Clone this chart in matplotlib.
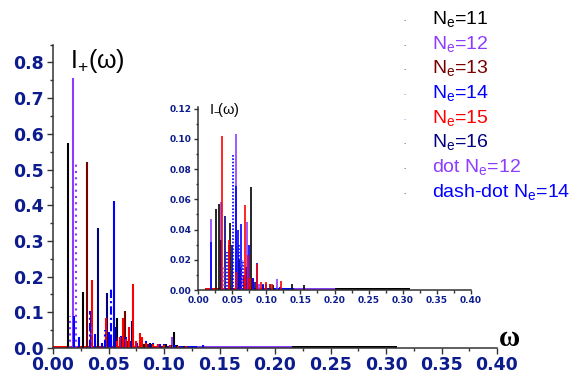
import matplotlib
matplotlib.use("Agg")
import matplotlib.pyplot as plt
from matplotlib.ticker import MultipleLocator

plt.rcParams['mathtext.fontset'] = 'custom'
plt.rcParams['mathtext.rm'] = 'Liberation Sans'
plt.rcParams['mathtext.default'] = 'rm'

# ---- I+(omega), main panel: (omega, intensity) pairs per series ----
p11_w = [0.0132, 0.0267, 0.0480, 0.0555, 0.0573, 0.0620, 0.0750, 0.0820, 0.0870, 0.0950,
         0.1020, 0.1090, 0.1120, 0.1180]
p11_h = [0.575, 0.157, 0.030, 0.060, 0.083, 0.025, 0.020, 0.012, 0.015, 0.010,
         0.012, 0.046, 0.008, 0.007]
p12_w = [0.0183, 0.0660, 0.0720, 0.0900, 0.0950, 0.1000, 0.1070]
p12_h = [0.757, 0.015, 0.020, 0.012, 0.010, 0.010, 0.030]
p13_w = [0.0306, 0.0580, 0.0648, 0.0680, 0.0860, 0.0980]
p13_h = [0.520, 0.030, 0.103, 0.020, 0.010, 0.006]
p14_w = [0.0185, 0.0230, 0.0345, 0.0378, 0.0440, 0.0500, 0.0520, 0.0549, 0.0610, 0.0640,
         0.0660, 0.0700, 0.0760, 0.0840, 0.0870, 0.0900, 0.0960, 0.1000, 0.1100, 0.1200,
         0.1350]
p14_h = [0.090, 0.030, 0.100, 0.040, 0.015, 0.045, 0.035, 0.412, 0.035, 0.025,
         0.030, 0.020, 0.015, 0.020, 0.012, 0.015, 0.012, 0.010, 0.008, 0.006,
         0.008]
p15_w = [0.0348, 0.0477, 0.0520, 0.0580, 0.0600, 0.0627, 0.0660, 0.0684, 0.0723, 0.0750,
         0.0780, 0.0800, 0.0840, 0.0900, 0.0950, 0.1000, 0.1050, 0.1130, 0.1200]
p15_h = [0.190, 0.085, 0.020, 0.020, 0.030, 0.085, 0.025, 0.060, 0.180, 0.020,
         0.043, 0.030, 0.015, 0.010, 0.012, 0.009, 0.008, 0.006, 0.006]
p16_w = [0.0402, 0.0490, 0.0565, 0.0714, 0.0880, 0.1060]
p16_h = [0.335, 0.155, 0.060, 0.075, 0.010, 0.008]
p12dot_w = [0.0156, 0.0210, 0.0340]
p12dot_h = [0.090, 0.520, 0.060]
p14dd_w = [0.0335, 0.0470, 0.0522]
p14dd_h = [0.105, 0.050, 0.165]
# dense low-level tails along the axis: (start, end, height)
p_tails = {'15': (0.000, 0.128, 0.006), '14': (0.100, 0.150, 0.006),
           '12': (0.130, 0.220, 0.006), '11': (0.215, 0.310, 0.005)}

# ---- I-(omega), inset ----
m11_w = [0.0260, 0.0304, 0.0464, 0.0600, 0.0777, 0.0950, 0.1100, 0.1370, 0.1550]
m11_h = [0.0536, 0.0570, 0.0440, 0.0200, 0.0680, 0.0030, 0.0030, 0.0040, 0.0030]
m12_w = [0.0186, 0.0330, 0.0557, 0.0713, 0.0900, 0.1157]
m12_h = [0.0470, 0.0580, 0.1033, 0.0448, 0.0040, 0.0075]
m13_w = [0.0450, 0.0630, 0.0800, 0.1050]
m13_h = [0.0300, 0.0150, 0.0080, 0.0040]
m14_w = [0.0190, 0.0550, 0.0590, 0.0625, 0.0700, 0.0740, 0.0800, 0.0859, 0.0950, 0.1000,
         0.1200]
m14_h = [0.0320, 0.0686, 0.0400, 0.0435, 0.0150, 0.0300, 0.0080, 0.0180, 0.0040, 0.0040,
         0.0020]
m15_w = [0.0347, 0.0455, 0.0550, 0.0670, 0.0684, 0.0727, 0.0760, 0.0870, 0.0920, 0.1000,
         0.1080, 0.1215]
m15_h = [0.1020, 0.0330, 0.0120, 0.0100, 0.0560, 0.0230, 0.0080, 0.0170, 0.0050, 0.0050,
         0.0040, 0.0060]
m16_w = [0.0335, 0.0400, 0.0500, 0.0680, 0.0830]
m16_h = [0.0330, 0.0490, 0.0300, 0.0100, 0.0050]
m12dot_w = [0.0380, 0.0650]
m12dot_h = [0.0150, 0.0200]
m14dd_w = [0.0420, 0.0518, 0.0600, 0.0660]
m14dd_h = [0.0250, 0.0900, 0.0300, 0.0200]
m_tails = {'15': (0.010, 0.125, 0.0010), '14': (0.100, 0.150, 0.0010),
           '12': (0.140, 0.220, 0.0010), '11': (0.200, 0.310, 0.0010)}

legend_labels = ['N$_e$=11', 'N$_e$=12', 'N$_e$=13', 'N$_e$=14', 'N$_e$=15', 'N$_e$=16',
                 'dot N$_e$=12', 'dash-dot N$_e$=14']

colors = {'11': '#000000', '12': '#8c3cff', '13': '#7a0000',
          '14': '#0000ff', '15': '#ff0000', '16': '#000080'}
tick_color = '#0c1c8c'

fig = plt.figure(figsize=(5.85, 3.75), dpi=100)
ax = fig.add_axes([53 / 585, 1 - 348 / 375, 444 / 585, 0.85 * 357 / 375])
ins = fig.add_axes([198 / 585, 1 - 290 / 375, 273 / 585, 183 / 375])


def draw_panel(a, lw, sticks, tails):
    for key, (t0, t1, th) in tails.items():
        a.fill_between([t0, t1], 0, th, color=colors[key], lw=0)
    for w, h, key, ls in sticks:
        a.vlines(w, 0, h, colors=colors[key], linestyles=ls, lw=lw)


draw_panel(ax, 1.5, [
    (p11_w, p11_h, '11', 'solid'), (p12_w, p12_h, '12', 'solid'), (p13_w, p13_h, '13', 'solid'),
    (p14_w, p14_h, '14', 'solid'), (p16_w, p16_h, '16', 'solid'), (p15_w, p15_h, '15', 'solid'),
    (p12dot_w, p12dot_h, '12', (0, (1, 2))), (p14dd_w, p14dd_h, '14', (0, (4, 1.5, 1, 1.5))),
], p_tails)
draw_panel(ins, 1.2, [
    (m11_w, m11_h, '11', 'solid'), (m12_w, m12_h, '12', 'solid'), (m13_w, m13_h, '13', 'solid'),
    (m14_w, m14_h, '14', 'solid'), (m16_w, m16_h, '16', 'solid'), (m15_w, m15_h, '15', 'solid'),
    (m12dot_w, m12dot_h, '12', (0, (1, 1.5))), (m14dd_w, m14dd_h, '14', (0, (1, 1))),
], m_tails)

for a, ymax, xmaj, ymaj, ymin, fs, fmt in [(ax, 0.85, 0.05, 0.1, 0.05, 12.5, '{:.1f}'),
                                             (ins, 0.121, 0.05, 0.02, 0.01, 6.5, '{:.2f}')]:
    a.patch.set_alpha(0)
    for s in ['top', 'right']:
        a.spines[s].set_visible(False)
    for s in ['left', 'bottom']:
        a.spines[s].set_linewidth(1.1)
        a.spines[s].set_color('#333333')
    a.xaxis.set_major_locator(MultipleLocator(xmaj))
    a.xaxis.set_minor_locator(MultipleLocator(xmaj / 2))
    a.yaxis.set_major_locator(MultipleLocator(ymaj))
    a.yaxis.set_minor_locator(MultipleLocator(ymin))
    a.set_xlim(0, 0.40)
    a.set_ylim(0, ymax)
    a.xaxis.set_major_formatter(lambda v, pos: '{:.2f}'.format(v))
    a.yaxis.set_major_formatter(lambda v, pos, f=fmt: f.format(v))
    a.tick_params(which='both', direction='out', color='#333333', width=1.0,
                  labelsize=fs, labelcolor=tick_color)
    for lab in a.get_xticklabels() + a.get_yticklabels():
        lab.set_fontweight('bold')
        lab.set_family('DejaVu Sans')

ax.tick_params(which='major', length=4.5)
ax.tick_params(which='minor', length=2.5)
ax.tick_params(axis='x', pad=1)
ax.tick_params(axis='y', pad=2)
ins.tick_params(which='major', length=3, pad=1.5)
ins.tick_params(which='minor', length=1.8)

ax.text(0.0155, 0.805, r'I$_{\!+}\!$(ω)', fontsize=18, family='Liberation Sans', va='center')
ins.text(0.016, 0.119, r'I$_{-}\!$(ω)', fontsize=10.5, family='Liberation Sans', va='center')
fig.text(509 / 585, 1 - 338 / 375, 'ω', fontsize=21, family='Liberation Serif',
         fontweight='bold', ha='center', va='center')

# legend drawn by hand: tiny marker + coloured text
legend_colors = [colors[k] for k in ['11', '12', '13', '14', '15', '16', '12', '14']]
marker_colors = ['#000000', '#000000', '#000000', '#555555', colors['12'], colors['16'],
                 '#000000', '#000000']
for i, (lab, col, mcol) in enumerate(zip(legend_labels, legend_colors, marker_colors)):
    y = 1 - (19 + i * 24.7) / 375
    fig.text(404 / 585, y, '.', color=mcol, fontsize=5, ha='center', va='center')
    fig.text(432 / 585, y, lab, color=col, fontsize=14, family='Liberation Sans', va='center')

fig.savefig('out.png', dpi=100)
